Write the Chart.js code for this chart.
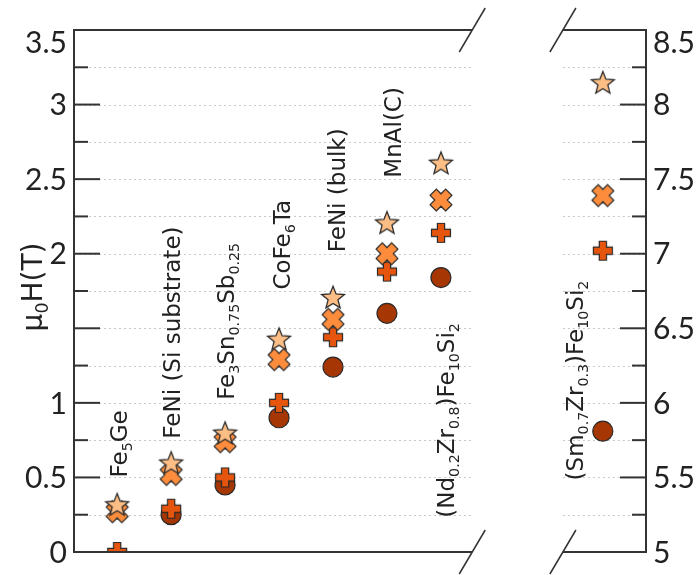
<!DOCTYPE html>
<html><head><meta charset="utf-8">
<script src="https://cdn.jsdelivr.net/npm/chart.js@4/dist/chart.umd.min.js"></script>
<style>html,body{margin:0;padding:0;background:#fff;}</style>
</head><body>
<canvas id="c" width="699" height="575"></canvas>
<script>
// ---- data ----
const leftCategories = ['Fe5Ge','FeNi (Si substrate)','Fe3Sn0.75Sb0.25','CoFe6Ta','FeNi (bulk)','MnAl(C)','(Nd0.2Zr0.8)Fe10Si2'];
const rightCategories = ['(Sm0.7Zr0.3)Fe10Si2'];
const starLeft   = [0.32, 0.60, 0.80, 1.43, 1.71, 2.21, 2.61];
const starRight  = [8.15];
const crossLeft  = [0.27, 0.52, 0.74, 1.29, 1.56, 2.00, 2.36];
const crossRight = [7.39];
const plusLeft   = [0.00, 0.29, 0.50, 1.00, 1.44, 1.88, 2.14];
const plusRight  = [7.02];
const circleLeft = [null, 0.25, 0.45, 0.90, 1.24, 1.60, 1.84];
const circleRight= [5.81];
const leftTickLabels  = [0, 0.5, 1, 2, 2.5, 3, 3.5];
const rightTickLabels = [5, 5.5, 6, 6.5, 7, 7.5, 8, 8.5];
// rich labels: [text, isSubscript]
const leftLabelSegs = [
  [['Fe'],['5',1],['Ge']],
  [['FeNi (Si substrate)']],
  [['Fe'],['3',1],['Sn'],['0.75',1],['Sb'],['0.25',1]],
  [['CoFe'],['6',1],['Ta']],
  [['FeNi (bulk)']],
  [['MnAl(C)']],
  [['(Nd'],['0.2',1],['Zr'],['0.8',1],[')Fe'],['10',1],['Si'],['2',1]]
];
const rightLabelSegs = [
  [['(Sm'],['0.7',1],['Zr'],['0.3',1],[')Fe'],['10',1],['Si'],['2',1]]
];

// ---- layout (not data) ----
const GAP = 3;            // category slots skipped at the axis break
const leftLabelDX = [2, 1, 1, 3, 4, 6, 5];
const leftLabelBottom = [0.50, 0.76, 1.02, 1.76, 2.01, 2.51, 0.23]; // in yL units
const rightLabelDX = [-28];
const rightLabelBottom = [5.48];

const COLORS = {star:'#fdbe85', cross:'#fd8d3c', plus:'#e6550d', circle:'#a63603', edge:'#2a2a2a'};

function makeImg(size, drawFn){
  const c = document.createElement('canvas'); c.width = size; c.height = size;
  const g = c.getContext('2d'); g.translate(size/2, size/2); drawFn(g); return c;
}
function polyPath(g, pts){ g.beginPath(); pts.forEach((p,i)=> i? g.lineTo(p[0],p[1]) : g.moveTo(p[0],p[1])); g.closePath(); }
function plusPts(L, w){ return [[w,-L],[w,-w],[L,-w],[L,w],[w,w],[w,L],[-w,L],[-w,w],[-L,w],[-L,-w],[-w,-w],[-w,-L]]; }
const starImg = makeImg(30, g=>{
  const pts=[]; const R=12, r=5.2;
  for(let i=0;i<10;i++){ const a=-Math.PI/2+i*Math.PI/5; const rr=i%2?r:R; pts.push([rr*Math.cos(a), rr*Math.sin(a)+1.2]); }
  polyPath(g, pts); g.fillStyle=COLORS.star; g.fill(); g.lineWidth=1.3; g.strokeStyle=COLORS.edge; g.stroke();
});
const crossImg = makeImg(30, g=>{
  g.rotate(Math.PI/4); polyPath(g, plusPts(11, 4.4)); g.fillStyle=COLORS.cross; g.fill(); g.lineWidth=1.2; g.strokeStyle=COLORS.edge; g.stroke();
});
const plusImg = makeImg(28, g=>{
  polyPath(g, plusPts(9.5, 3.6)); g.fillStyle=COLORS.plus; g.fill(); g.lineWidth=1.2; g.strokeStyle=COLORS.edge; g.stroke();
});

function pts(vals, offset){ return vals.map((v,i)=>({x: offset+i+1, y: v})).filter(p=>p.y!==null); }
const rOff = leftCategories.length + GAP - 1;

function ds(vals, offset, axis, style, order, extra){
  return Object.assign({data: pts(vals, offset), yAxisID: axis, xAxisID:'x', pointStyle: style, pointRadius: 11, order, clip: 0, showLine:false}, extra||{});
}
const circleExtra = {pointRadius:10, backgroundColor: COLORS.circle, borderColor: COLORS.edge, borderWidth: 1.2};

const deco = {
  id:'deco',
  beforeDatasetsDraw(chart){
    const {ctx, chartArea:a, scales} = chart; const x=scales.x, yL=scales.yL, yR=scales.yR;
    const xb1 = x.getPixelForValue(leftCategories.length + 0.58), xb2 = x.getPixelForValue(rOff + 0.26);
    ctx.save(); ctx.strokeStyle='#c8c8c8'; ctx.lineWidth=1; ctx.setLineDash([2,3]);
    for(let k=1;k<14;k++){ const y=Math.round(yL.getPixelForValue(k*0.25))+0.5; ctx.beginPath(); ctx.moveTo(a.left,y); ctx.lineTo(xb1,y); ctx.stroke(); }
    for(let k=1;k<14;k++){ const y=Math.round(yR.getPixelForValue(5+k*0.25))+0.5; ctx.beginPath(); ctx.moveTo(xb2,y); ctx.lineTo(a.right,y); ctx.stroke(); }
    ctx.restore();
  },
  afterDatasetsDraw(chart){
    const {ctx, chartArea:a, scales} = chart; const x=scales.x, yL=scales.yL, yR=scales.yR;
    const xb1 = x.getPixelForValue(leftCategories.length + 0.58), xb2 = x.getPixelForValue(rOff + 0.26);
    ctx.save();
    ctx.strokeStyle='#333'; ctx.lineWidth=2; ctx.setLineDash([]);
    const line=(x1,y1,x2,y2)=>{ctx.beginPath();ctx.moveTo(x1,y1);ctx.lineTo(x2,y2);ctx.stroke();};
    // frames
    line(a.left, a.top, xb1, a.top); line(a.left, a.bottom, xb1, a.bottom); line(a.left, a.top-1, a.left, a.bottom+1);
    line(xb2, a.top, a.right, a.top); line(xb2, a.bottom, a.right, a.bottom); line(a.right, a.top-1, a.right, a.bottom+1);
    // ticks
    for(let k=0;k<=14;k++){ const y=yL.getPixelForValue(k*0.25); line(a.left, y, a.left + (k%2?14:26), y); }
    for(let k=0;k<=14;k++){ const y=yR.getPixelForValue(5+k*0.25); line(a.right, y, a.right - (k%2?14:26), y); }
    // break marks
    ctx.lineWidth=1.5;
    [xb1, xb2].forEach(bx=>{ [a.top, a.bottom].forEach(by=>line(bx-13, by+22, bx+13, by-22)); });
    // tick labels
    ctx.fillStyle='#222'; ctx.font='30px Lato'; ctx.textBaseline='middle';
    ctx.textAlign='right';
    leftTickLabels.forEach(v=>{ let y=yL.getPixelForValue(v); if(v===yL.max) y+=12; ctx.fillText(String(v), a.left-7, y+1); });
    ctx.textAlign='left';
    rightTickLabels.forEach(v=>{ let y=yR.getPixelForValue(v); if(v===yR.max) y+=12; ctx.fillText(String(v), a.right+7, y+1); });
    // axis title
    ctx.save(); ctx.translate(42, (a.top+a.bottom)/2 - 4); ctx.rotate(-Math.PI/2); ctx.textAlign='center'; ctx.textBaseline='alphabetic';
    drawSegs(ctx, [['μ'],['0',1],['H(T)']], 28, true);
    ctx.restore();
    // category labels
    leftLabelSegs.forEach((s,i)=>rotLabel(ctx, s, x.getPixelForValue(i+1)+leftLabelDX[i], yL.getPixelForValue(leftLabelBottom[i]), 23));
    rightLabelSegs.forEach((s,i)=>rotLabel(ctx, s, x.getPixelForValue(rOff+i+1)+rightLabelDX[i], yR.getPixelForValue(rightLabelBottom[i]), 23));
    ctx.restore();
  }
};
function drawSegs(ctx, segs, size, centered){
  const fam='"DejaVu Sans"';
  let total=0; segs.forEach(([t,s])=>{ ctx.font=(s?size*0.62:size)+'px '+fam; total+=ctx.measureText(t).width; });
  let xp = centered ? -total/2 : 0; ctx.textAlign='left';
  segs.forEach(([t,s])=>{ ctx.font=(s?size*0.62:size)+'px '+fam; ctx.fillText(t, xp, s? size*0.2 : 0); xp+=ctx.measureText(t).width; });
}
function rotLabel(ctx, segs, cx, yb, size){
  ctx.save(); ctx.fillStyle='#222'; ctx.translate(cx + size*0.36, yb); ctx.rotate(-Math.PI/2); ctx.textBaseline='alphabetic';
  drawSegs(ctx, segs, size, false); ctx.restore();
}

new Chart(document.getElementById('c'), {
  type:'scatter',
  data:{datasets:[
    ds(starLeft, 0, 'yL', starImg, 0), ds(starRight, rOff, 'yR', starImg, 0),
    ds(crossLeft, 0, 'yL', crossImg, 1), ds(crossRight, rOff, 'yR', crossImg, 1),
    ds(plusLeft, 0, 'yL', plusImg, 2), ds(plusRight, rOff, 'yR', plusImg, 2),
    ds(circleLeft, 0, 'yL', 'circle', 3, circleExtra), ds(circleRight, rOff, 'yR', 'circle', 3, circleExtra)
  ]},
  options:{
    responsive:false, animation:false, events:[],
    layout:{padding:{left:74, right:53, top:30, bottom:23}},
    plugins:{legend:{display:false}, tooltip:{enabled:false}},
    scales:{
      x:{type:'linear', min:0.2, max:10.8, display:false},
      yL:{type:'linear', position:'left', min:0, max:3.5, display:false},
      yR:{type:'linear', position:'right', min:5, max:8.5, display:false}
    }
  },
  plugins:[deco]
});
</script>
</body></html>
